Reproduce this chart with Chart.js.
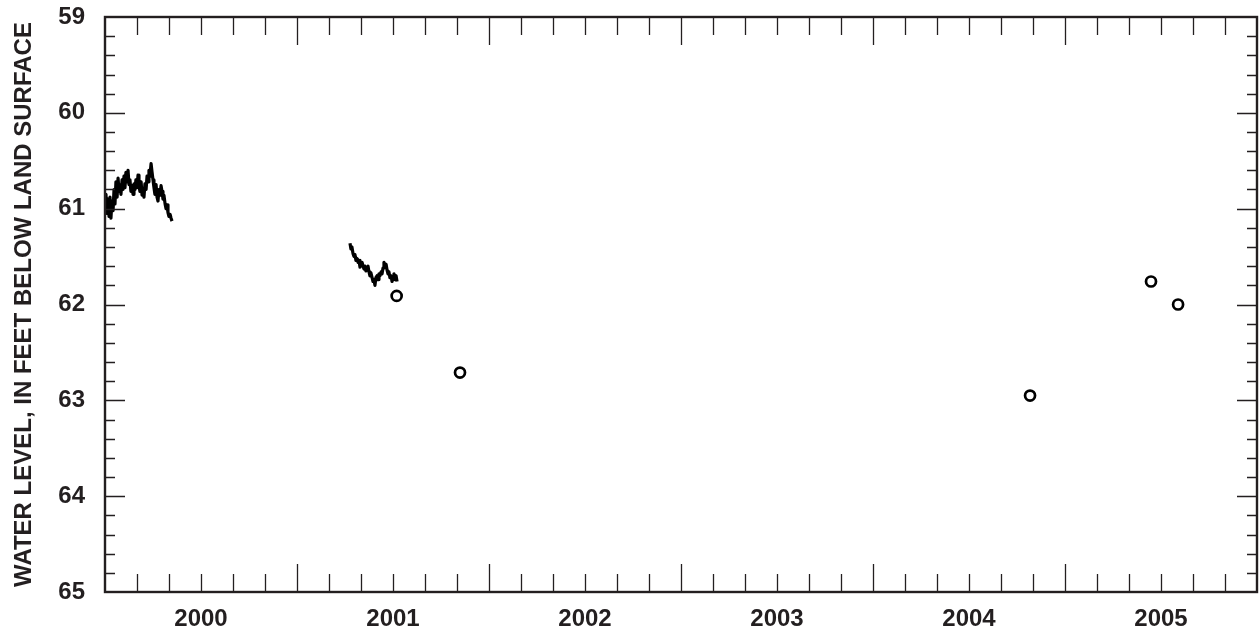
<!DOCTYPE html>
<html>
<head>
<meta charset="utf-8">
<script src="https://cdn.jsdelivr.net/npm/chart.js@4.4.1/dist/chart.umd.min.js"></script>
<style>
  html, body { margin: 0; padding: 0; background: #ffffff; }
  #wrap { width: 1259px; height: 631px; position: relative; }
</style>
</head>
<body>
<div id="wrap"><canvas id="c" width="1259" height="631"></canvas></div>
<script>
// ---- Data (x in decimal years, y = water level, feet below land surface) ----
const yearLabels = [2000, 2001, 2002, 2003, 2004, 2005];
const yTickLabels = [59, 60, 61, 62, 63, 64, 65];

// Continuous record, early 2000
const seg1Years = [
  2000.000, 2000.005, 2000.010, 2000.016, 2000.021, 2000.026, 2000.031, 2000.036,
  2000.042, 2000.047, 2000.052, 2000.057, 2000.063, 2000.068, 2000.073, 2000.078,
  2000.083, 2000.089, 2000.094, 2000.099, 2000.104, 2000.109, 2000.115, 2000.120,
  2000.125, 2000.130, 2000.135, 2000.141, 2000.146, 2000.151, 2000.156, 2000.161,
  2000.167, 2000.172, 2000.177, 2000.182, 2000.188, 2000.193, 2000.198, 2000.203,
  2000.208, 2000.214, 2000.219, 2000.224, 2000.229, 2000.234, 2000.240, 2000.245,
  2000.250, 2000.255, 2000.260, 2000.266, 2000.271, 2000.276, 2000.281, 2000.286,
  2000.292, 2000.297, 2000.302, 2000.307, 2000.313, 2000.318, 2000.323, 2000.328,
  2000.333, 2000.339, 2000.344, 2000.349
];
const seg1Levels = [
  61.00, 60.85, 61.05, 60.90, 61.08, 60.88, 61.10, 60.92,
  61.02, 60.80, 60.95, 60.72, 60.88, 60.68, 60.82, 60.75,
  60.85, 60.70, 60.80, 60.66, 60.78, 60.62, 60.72, 60.60,
  60.75, 60.70, 60.82, 60.76, 60.85, 60.74, 60.80, 60.70,
  60.78, 60.65, 60.76, 60.82, 60.72, 60.86, 60.80, 60.88,
  60.74, 60.80, 60.66, 60.72, 60.60, 60.66, 60.53, 60.62,
  60.70, 60.78, 60.85, 60.75, 60.88, 60.92, 60.80, 60.86,
  60.76, 60.82, 60.90, 60.86, 60.95, 61.00, 60.96, 61.04,
  61.08, 61.06, 61.10, 61.13
];

// Continuous record, spring-summer 2001
const seg2Years = [
  2001.276, 2001.281, 2001.286, 2001.292, 2001.297, 2001.302, 2001.307, 2001.313,
  2001.318, 2001.323, 2001.328, 2001.333, 2001.339, 2001.344, 2001.349, 2001.354,
  2001.359, 2001.365, 2001.370, 2001.375, 2001.380, 2001.385, 2001.391, 2001.396,
  2001.401, 2001.406, 2001.411, 2001.417, 2001.422, 2001.427, 2001.432, 2001.438,
  2001.443, 2001.448, 2001.453, 2001.458, 2001.464, 2001.469, 2001.474, 2001.479,
  2001.484, 2001.490, 2001.495, 2001.500, 2001.505, 2001.510, 2001.516, 2001.521
];
const seg2Levels = [
  61.36, 61.42, 61.40, 61.47, 61.50, 61.48, 61.54, 61.52,
  61.56, 61.54, 61.61, 61.58, 61.56, 61.60, 61.63, 61.60,
  61.65, 61.62, 61.60, 61.66, 61.70, 61.67, 61.72, 61.76,
  61.74, 61.80, 61.72, 61.70, 61.74, 61.68, 61.70, 61.66,
  61.68, 61.62, 61.56, 61.60, 61.58, 61.64, 61.68, 61.66,
  61.72, 61.70, 61.76, 61.72, 61.68, 61.74, 61.70, 61.76
];

// Periodic (discrete) measurements
const discreteYears  = [2001.519, 2001.849, 2004.818, 2005.448, 2005.589];
const discreteLevels = [61.91, 62.71, 62.95, 61.76, 62.00];

// ---- build point arrays ----
const toPts = (xs, ys) => xs.map((x, i) => ({ x: x, y: ys[i] }));

const INK = '#231f20';

const frameAndTicks = {
  id: 'frameAndTicks',
  afterDraw(chart) {
    const ctx = chart.ctx;
    const a = chart.chartArea;
    const xs = chart.scales.x, ys = chart.scales.y;
    ctx.save();
    ctx.strokeStyle = INK;
    ctx.lineWidth = 1.3;
    ctx.beginPath();
    // x ticks: every 2 months, major at year boundaries
    for (let k = 1; k < 36; k++) {
      const v = yearLabels[0] + k / 6;
      const px = Math.round(xs.getPixelForValue(v)) + 0.5;
      const len = (k % 6 === 0) ? 28 : 18;
      ctx.moveTo(px, a.top); ctx.lineTo(px, a.top + len);
      ctx.moveTo(px, a.bottom); ctx.lineTo(px, a.bottom - len);
    }
    // y ticks: every 0.2 ft, major at whole feet
    for (let k = 1; k < 30; k++) {
      const v = yTickLabels[0] + k * 0.2;
      const py = Math.round(ys.getPixelForValue(v)) + 0.5;
      const len = (k % 5 === 0) ? 20 : 10;
      ctx.moveTo(a.left, py); ctx.lineTo(a.left + len, py);
      ctx.moveTo(a.right, py); ctx.lineTo(a.right - len, py);
    }
    ctx.stroke();
    ctx.lineWidth = 2.4;
    ctx.strokeRect(a.left, a.top, a.right - a.left, a.bottom - a.top);
    ctx.restore();
  }
};

const FONT = "'Liberation Sans', Arial, Helvetica, sans-serif";

new Chart(document.getElementById('c'), {
  type: 'scatter',
  data: {
    datasets: [
      {
        data: toPts(seg1Years, seg1Levels),
        showLine: true, borderColor: '#000', borderWidth: 3.2,
        borderJoinStyle: 'round',
        pointRadius: 0, tension: 0, order: 2
      },
      {
        data: toPts(seg2Years, seg2Levels),
        showLine: true, borderColor: '#000', borderWidth: 3.2,
        borderJoinStyle: 'round',
        pointRadius: 0, tension: 0, order: 2
      },
      {
        data: toPts(discreteYears, discreteLevels),
        showLine: false, pointRadius: 5, pointBorderWidth: 2.7,
        pointBackgroundColor: '#fff', pointBorderColor: '#000', order: 1
      }
    ]
  },
  options: {
    responsive: false,
    animation: false,
    events: [],
    layout: { autoPadding: false, padding: { top: 17, right: 2, left: 0, bottom: 0 } },
    plugins: { legend: { display: false }, tooltip: { enabled: false } },
    scales: {
      x: {
        type: 'linear',
        min: yearLabels[0],
        max: yearLabels[yearLabels.length - 1] + 1,
        grid: { display: false, drawTicks: false },
        border: { display: false },
        afterBuildTicks: (s) => { s.ticks = yearLabels.map(y => ({ value: y + 0.5 })); },
        afterFit: (s) => { s.height = 39; s.paddingLeft = 0; s.paddingRight = 0; },
        ticks: {
          autoSkip: false, maxRotation: 0, padding: 13,
          color: INK,
          font: { family: FONT, size: 24, weight: 'bold' },
          callback: (v) => String(Math.floor(v))
        }
      },
      y: {
        type: 'linear',
        reverse: true,
        min: yTickLabels[0],
        max: yTickLabels[yTickLabels.length - 1],
        grid: { display: false, drawTicks: false },
        border: { display: false },
        afterBuildTicks: (s) => { s.ticks = yTickLabels.map(v => ({ value: v })); },
        afterFit: (s) => { s.width = 105; s.paddingTop = 0; s.paddingBottom = 0; },
        ticks: {
          padding: 20, color: INK,
          font: { family: FONT, size: 24, weight: 'bold' },
          callback: (v) => String(v)
        },
        title: {
          display: true,
          text: 'WATER LEVEL, IN FEET BELOW LAND SURFACE',
          color: INK,
          font: { family: FONT, size: 24, weight: 'bold' },
          padding: { top: 10, bottom: 0 }
        }
      }
    }
  },
  plugins: [frameAndTicks]
});
</script>
</body>
</html>
